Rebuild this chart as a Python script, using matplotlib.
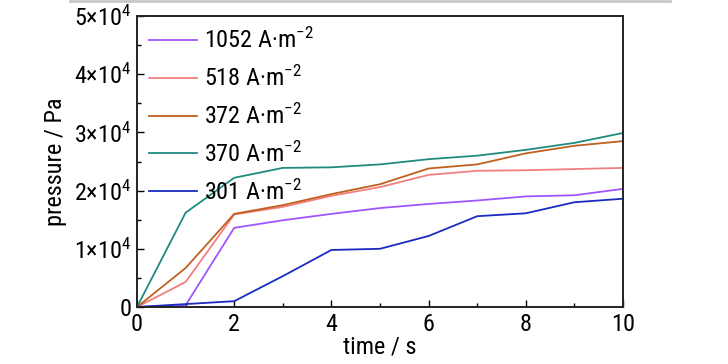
import matplotlib
matplotlib.use("Agg")
import matplotlib.pyplot as plt
from matplotlib.ticker import MultipleLocator, FuncFormatter
from matplotlib.lines import Line2D

FONT = "Roboto Condensed"
FS = 17.5
plt.rcParams["font.family"] = [FONT, "Liberation Sans", "DejaVu Sans"]
plt.rcParams["mathtext.fontset"] = "custom"
plt.rcParams["mathtext.rm"] = FONT
plt.rcParams["mathtext.it"] = FONT

time = [0, 1, 2, 3, 4, 5, 6, 7, 8, 9, 10]
labels = ["1052 A·m$^{-2}$", "518 A·m$^{-2}$", "372 A·m$^{-2}$",
          "370 A·m$^{-2}$", "301 A·m$^{-2}$"]
p_1052 = [0, 300, 13600, 14900, 16000, 17000, 17700, 18300, 19000, 19200, 20300]
p_518 = [0, 4300, 15900, 17200, 19100, 20600, 22700, 23400, 23500, 23700, 23900]
p_372 = [0, 6700, 16000, 17500, 19400, 21100, 23800, 24500, 26400, 27700, 28500]
p_370 = [0, 16200, 22200, 23900, 24000, 24500, 25400, 26000, 27000, 28200, 29900]
p_301 = [0, 500, 1000, 5300, 9800, 10000, 12200, 15600, 16100, 18000, 18600]
colors = ["#a055ff", "#f08080", "#c0601e", "#1e8a80", "#1a2cbf"]


def sci(v, pos):
    if v == 0:
        return "0"
    return r"%d×10$^{4}$" % round(v / 1e4)


fig = plt.figure(figsize=(7.28, 3.64), dpi=100)
ax = fig.add_axes([137 / 728, 1 - 307 / 364, (623 - 137) / 728, (307 - 16) / 364])

series = [p_1052, p_518, p_372, p_370, p_301]
for vals, lab, c in zip(series, labels, colors):
    ax.plot(time, vals, color=c, lw=1.3, label=lab)

ax.set_xlim(0, 10)
ax.set_ylim(0, 50000)
ax.xaxis.set_major_locator(MultipleLocator(2))
ax.xaxis.set_minor_locator(MultipleLocator(1))
ax.yaxis.set_major_locator(MultipleLocator(10000))
ax.yaxis.set_minor_locator(MultipleLocator(5000))
ax.yaxis.set_major_formatter(FuncFormatter(sci))
ax.tick_params(which="both", direction="in", labelsize=FS, width=1.0)
ax.tick_params(which="major", length=5, pad=4)
ax.tick_params(which="minor", length=3)
for s in ax.spines.values():
    s.set_linewidth(1.4)
    s.set_color("#222222")

ax.set_xlabel("time / s", fontsize=FS, labelpad=0)
ax.set_ylabel("pressure / Pa", fontsize=FS, labelpad=5)

ax.legend(loc="upper left", frameon=False, fontsize=FS, handlelength=1.95,
          handletextpad=0.3, labelspacing=0.52, borderaxespad=0.0,
          borderpad=0.5, bbox_to_anchor=(0.0, 1.0))

# faint gray rule along the top of the image
fig.add_artist(Line2D([70 / 728, 670 / 728], [0.998, 0.998], color="#c8c8c8", lw=2))

fig.savefig("out.png", dpi=100)
